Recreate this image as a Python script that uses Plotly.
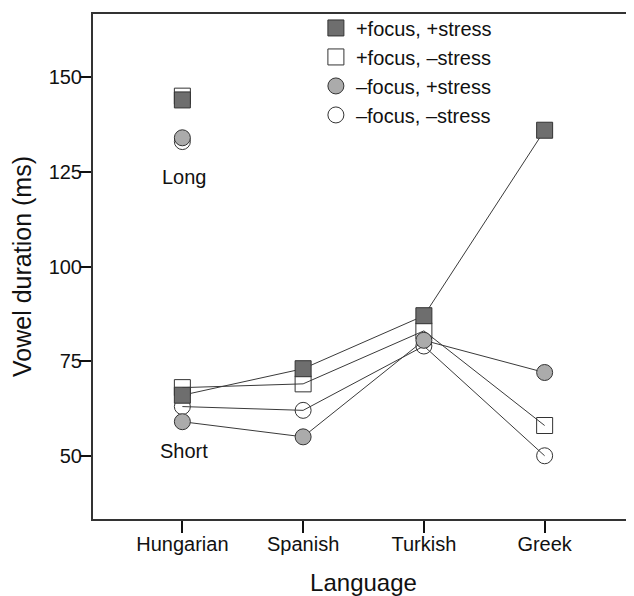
import plotly.graph_objects as go

languages = ["Hungarian", "Spanish", "Turkish", "Greek"]

# Short vowels (ms) per language
pf_ps_short = [66, 73, 87, 136]   # +focus, +stress
pf_ms_short = [68, 69, 83, 58]    # +focus, -stress
mf_ps_short = [59, 55, 80.5, 72]  # -focus, +stress
mf_ms_short = [63, 62, 79, 50]    # -focus, -stress

# Long vowels (Hungarian only)
long_lang = ["Hungarian"]
pf_ps_long = [144]
pf_ms_long = [145]
mf_ps_long = [134]
mf_ms_long = [133]

series_names = ["+focus, +stress", "+focus, \u2013stress", "\u2013focus, +stress", "\u2013focus, \u2013stress"]

EDGE = "#333333"
LINE = "#3a3a3a"
styles = {
    series_names[0]: dict(symbol="square", color="#6e6e6e"),
    series_names[1]: dict(symbol="square", color="rgba(255,255,255,0)"),
    series_names[2]: dict(symbol="circle", color="#ababab"),
    series_names[3]: dict(symbol="circle", color="rgba(255,255,255,0)"),
}

short_data = {
    series_names[0]: pf_ps_short,
    series_names[1]: pf_ms_short,
    series_names[2]: mf_ps_short,
    series_names[3]: mf_ms_short,
}
long_data = {
    series_names[0]: pf_ps_long,
    series_names[1]: pf_ms_long,
    series_names[2]: mf_ps_long,
    series_names[3]: mf_ms_long,
}

# drawing order bottom -> top
draw_order = [series_names[3], series_names[1], series_names[2], series_names[0]]
rank = {n: i + 1 for i, n in enumerate(series_names)}

fig = go.Figure()
for name in draw_order:
    st = styles[name]
    marker = dict(symbol=st["symbol"], size=16, color=st["color"],
                  line=dict(color=EDGE, width=1))
    fig.add_trace(go.Scatter(
        x=languages, y=short_data[name], mode="lines+markers", name=name,
        legendgroup=name, showlegend=False,
        line=dict(color=LINE, width=1), marker=marker))
    fig.add_trace(go.Scatter(
        x=long_lang, y=long_data[name], mode="markers", name=name,
        legendgroup=name, showlegend=True, legendrank=rank[name],
        marker=marker))

FONT = "Liberation Sans, Arial, sans-serif"

fig.add_annotation(x="Hungarian", y=123.6, text="Long", showarrow=False,
                   font=dict(size=20, color="#111", family=FONT), xshift=2)
fig.add_annotation(x="Hungarian", y=51.3, text="Short", showarrow=False,
                   font=dict(size=20, color="#111", family=FONT), xshift=2)

# the page body adds an 8px offset, so the figure is sized to fit the window
fig.update_layout(
    width=626, height=588,
    margin=dict(l=85, r=0, t=4, b=77),
    paper_bgcolor="white", plot_bgcolor="white",
    font=dict(family=FONT, size=20, color="#111"),
    showlegend=True,
    legend=dict(x=0.412, y=1.011, xanchor="left", yanchor="top",
                bgcolor="rgba(0,0,0,0)", font=dict(size=20, family=FONT, color="#111"),
                tracegroupgap=0),
    xaxis=dict(
        type="category", categoryorder="array", categoryarray=languages,
        range=[-0.74, 3.74], showgrid=False, zeroline=False, automargin=False,
        showline=True, linecolor=EDGE, linewidth=2, mirror=True,
        ticks="outside", ticklen=12, tickwidth=2, tickcolor="#111",
        ticklabelstandoff=-6,
        tickfont=dict(size=20, family=FONT, color="#111"),
        title=dict(text="Language", font=dict(size=24, family=FONT, color="#111"), standoff=31),
    ),
    yaxis=dict(
        range=[33.3, 166.7], tickvals=[50, 75, 100, 125, 150],
        showgrid=False, zeroline=False, automargin=False,
        showline=True, linecolor=EDGE, linewidth=2, mirror=False,
        ticks="outside", ticklen=11, tickwidth=2, tickcolor="#111",
        ticklabelstandoff=-6,
        tickfont=dict(size=20, family=FONT, color="#111"),
        title=dict(text="Vowel duration (ms)", font=dict(size=25, family=FONT, color="#111"), standoff=14),
    ),
)

fig.write_html("out.html")
